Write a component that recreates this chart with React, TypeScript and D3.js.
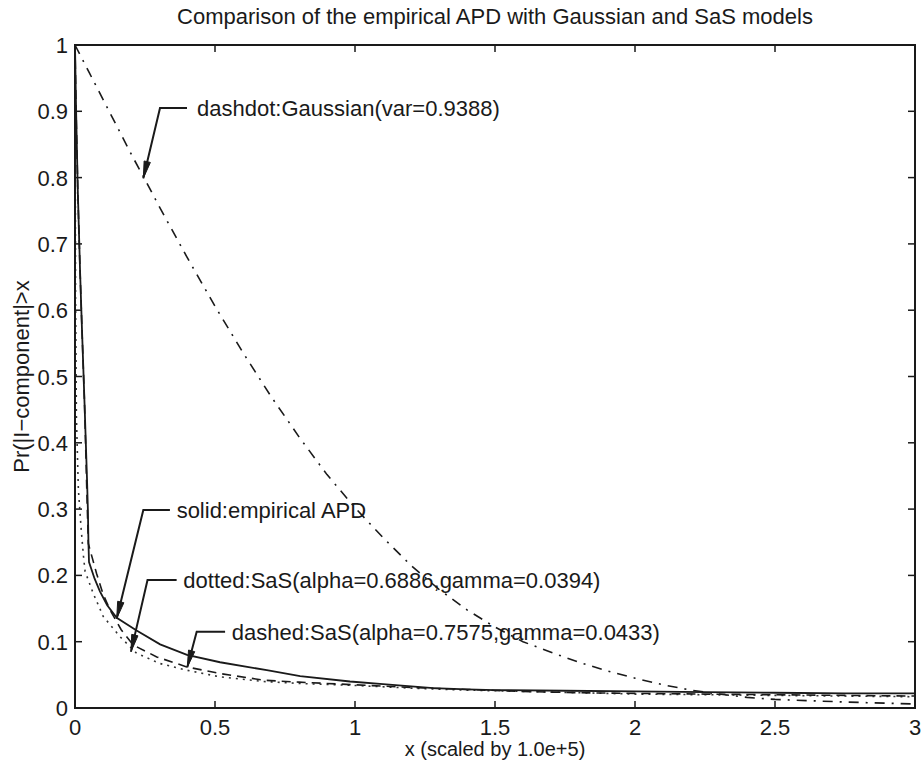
import React from "react";
import * as d3 from "d3";

const W = 921;
const H = 765;

const xTicks = [0, 0.5, 1, 1.5, 2, 2.5, 3];
const xTickLabels = ["0", "0.5", "1", "1.5", "2", "2.5", "3"];
const yTicks = [0, 0.1, 0.2, 0.3, 0.4, 0.5, 0.6, 0.7, 0.8, 0.9, 1];
const yTickLabels = ["0", "0.1", "0.2", "0.3", "0.4", "0.5", "0.6", "0.7", "0.8", "0.9", "1"];

// Gaussian model (dashdot)
const gaussX = [0, 0.05, 0.1, 0.15, 0.2, 0.25, 0.3, 0.4, 0.5, 0.6, 0.7, 0.8, 0.9, 1.0, 1.1, 1.2, 1.3, 1.4, 1.5, 1.6, 1.7, 1.8, 1.9, 2.0, 2.1, 2.2, 2.3, 2.4, 2.5, 2.75, 3.0];
const gaussY = [1, 0.959, 0.918, 0.877, 0.836, 0.797, 0.757, 0.68, 0.606, 0.536, 0.47, 0.409, 0.352, 0.302, 0.257, 0.215, 0.179, 0.148, 0.122, 0.1, 0.084, 0.069, 0.056, 0.045, 0.035, 0.027, 0.021, 0.016, 0.013, 0.009, 0.006];

// Empirical APD (solid)
const empX = [0, 0.004, 0.01, 0.018, 0.025, 0.034, 0.043, 0.046, 0.048, 0.05, 0.07, 0.089, 0.115, 0.149, 0.22, 0.304, 0.4, 0.518, 0.685, 0.804, 0.982, 1.1, 1.28, 1.4, 1.5, 1.75, 2.0, 2.25, 2.5, 2.75, 3.0];
const empY = [1, 0.9, 0.78, 0.66, 0.57, 0.46, 0.344, 0.3, 0.25, 0.22, 0.195, 0.176, 0.155, 0.136, 0.117, 0.096, 0.08, 0.069, 0.057, 0.048, 0.04, 0.036, 0.03, 0.028, 0.027, 0.026, 0.025, 0.024, 0.023, 0.022, 0.022];

// SaS alpha=0.7575 (dashed)
const dashX = [0, 0.004, 0.01, 0.018, 0.025, 0.034, 0.042, 0.0475, 0.077, 0.1, 0.125, 0.165, 0.208, 0.292, 0.399, 0.518, 0.673, 0.8, 1.0, 1.2, 1.4, 1.6, 1.8, 2.0, 2.25, 2.5, 2.75, 3.0];
const dashY = [1, 0.9, 0.78, 0.66, 0.57, 0.46, 0.33, 0.248, 0.203, 0.172, 0.148, 0.118, 0.095, 0.077, 0.062, 0.052, 0.042, 0.039, 0.035, 0.031, 0.028, 0.025, 0.023, 0.022, 0.021, 0.02, 0.019, 0.018];

// SaS alpha=0.6886 (dotted)
const dotX = [0, 0.002, 0.005, 0.012, 0.022, 0.03, 0.036, 0.065, 0.101, 0.161, 0.22, 0.304, 0.399, 0.518, 0.673, 0.8, 1.0, 1.2, 1.4, 1.6, 1.8, 2.0, 2.25, 2.5, 2.75, 3.0];
const dotY = [1, 0.62, 0.44, 0.33, 0.27, 0.23, 0.206, 0.173, 0.138, 0.1075, 0.0825, 0.067, 0.057, 0.047, 0.04, 0.037, 0.034, 0.03, 0.027, 0.025, 0.023, 0.021, 0.02, 0.019, 0.018, 0.017];

// annotations: label, arrow tip (data), elbow (data), end of horizontal (data x), text start (data x)
const annLabels = [
  "dashdot:Gaussian(var=0.9388)",
  "solid:empirical APD",
  "dotted:SaS(alpha=0.6886,gamma=0.0394)",
  "dashed:SaS(alpha=0.7575,gamma=0.0433)",
];
const annTipX = [0.244, 0.149, 0.2, 0.401];
const annTipY = [0.799, 0.135, 0.085, 0.0614];
const annElbowX = [0.3036, 0.244, 0.259, 0.4346];
const annElbowY = [0.905, 0.2986, 0.193, 0.115];
const annHorizEndX = [0.4, 0.339, 0.363, 0.536];
const annTextX = [0.436, 0.363, 0.387, 0.56];

const FONT = "'Liberation Sans', Arial, Helvetica, sans-serif";
const INK = "#1a1a1a";

export default function App() {
  const x = d3.scaleLinear().domain([0, 3]).range([75, 915]);
  const y = d3.scaleLinear().domain([0, 1]).range([708, 45]);
  const line = d3
    .line<[number, number]>()
    .x((d) => x(d[0]))
    .y((d) => y(d[1]));
  const zip = (a: number[], b: number[]) => a.map((v, i) => [v, b[i]] as [number, number]);

  const tickLen = 7;
  const [x0, x1] = x.range();
  const [y0, y1] = y.range();

  const arrows = annLabels.map((label, i) => {
    const tx = x(annTipX[i]);
    const ty = y(annTipY[i]);
    const ex = x(annElbowX[i]);
    const ey = y(annElbowY[i]);
    const hx = x(annHorizEndX[i]);
    const dx = ex - tx;
    const dy = ey - ty;
    const len = Math.sqrt(dx * dx + dy * dy);
    const ux = dx / len;
    const uy = dy / len;
    const L = 17;
    const hw = 3.2;
    const bx = tx + ux * L;
    const by = ty + uy * L;
    const head = `${tx},${ty} ${bx - uy * hw},${by + ux * hw} ${bx + uy * hw},${by - ux * hw}`;
    return (
      <g key={i}>
        <polyline
          points={`${hx},${ey} ${ex},${ey} ${tx},${ty}`}
          fill="none"
          stroke={INK}
          strokeWidth={2}
        />
        <polygon points={head} fill={INK} stroke={INK} strokeWidth={1} />
        <text
          x={x(annTextX[i])}
          y={ey + 8}
          fontFamily={FONT}
          fontSize={22}
          fill={INK}
        >
          {label}
        </text>
      </g>
    );
  });

  return (
    <svg
      width={W}
      height={H}
      style={{ position: "absolute", left: 0, top: 0, background: "#fff" }}
    >
      <rect x={0} y={0} width={W} height={H} fill="#fff" />
      <text
        x={(x0 + x1) / 2}
        y={24}
        textAnchor="middle"
        fontFamily={FONT}
        fontSize={22}
        fill={INK}
      >
        Comparison of the empirical APD with Gaussian and SaS models
      </text>

      {/* curves */}
      <path d={line(zip(gaussX, gaussY)) || ""} fill="none" stroke={INK} strokeWidth={1.6} strokeDasharray="10,7,2,7" />
      <path d={line(zip(dotX, dotY)) || ""} fill="none" stroke="#333" strokeWidth={1.6} strokeDasharray="2,5" />
      <path d={line(zip(dashX, dashY)) || ""} fill="none" stroke={INK} strokeWidth={1.6} strokeDasharray="9,6" />
      <path d={line(zip(empX, empY)) || ""} fill="none" stroke={INK} strokeWidth={1.8} />

      {/* box */}
      <rect x={x0} y={y1} width={x1 - x0} height={y0 - y1} fill="none" stroke={INK} strokeWidth={2} />

      {/* x ticks */}
      {xTicks.map((t, i) => (
        <g key={"xt" + i}>
          <line x1={x(t)} x2={x(t)} y1={y0} y2={y0 - tickLen} stroke={INK} strokeWidth={1.5} />
          <line x1={x(t)} x2={x(t)} y1={y1} y2={y1 + tickLen} stroke={INK} strokeWidth={1.5} />
          <text
            x={x(t)}
            y={y0 + 27}
            textAnchor="middle"
            fontFamily={FONT}
            fontSize={22}
            fill={INK}
          >
            {xTickLabels[i]}
          </text>
        </g>
      ))}

      {/* y ticks */}
      {yTicks.map((t, i) => (
        <g key={"yt" + i}>
          <line x1={x0} x2={x0 + tickLen} y1={y(t)} y2={y(t)} stroke={INK} strokeWidth={1.5} />
          <line x1={x1} x2={x1 - tickLen} y1={y(t)} y2={y(t)} stroke={INK} strokeWidth={1.5} />
          <text
            x={x0 - 7}
            y={y(t) + 8}
            textAnchor="end"
            fontFamily={FONT}
            fontSize={22}
            fill={INK}
          >
            {yTickLabels[i]}
          </text>
        </g>
      ))}

      {/* axis labels */}
      <text
        x={(x0 + x1) / 2}
        y={756}
        textAnchor="middle"
        fontFamily={FONT}
        fontSize={20}
        fill={INK}
      >
        x (scaled by 1.0e+5)
      </text>
      <text
        transform={`translate(29,${(y0 + y1) / 2}) rotate(-90)`}
        textAnchor="middle"
        fontFamily={FONT}
        fontSize={22}
        fill={INK}
      >
        Pr(|I−component|&gt;x
      </text>

      {arrows}
    </svg>
  );
}
